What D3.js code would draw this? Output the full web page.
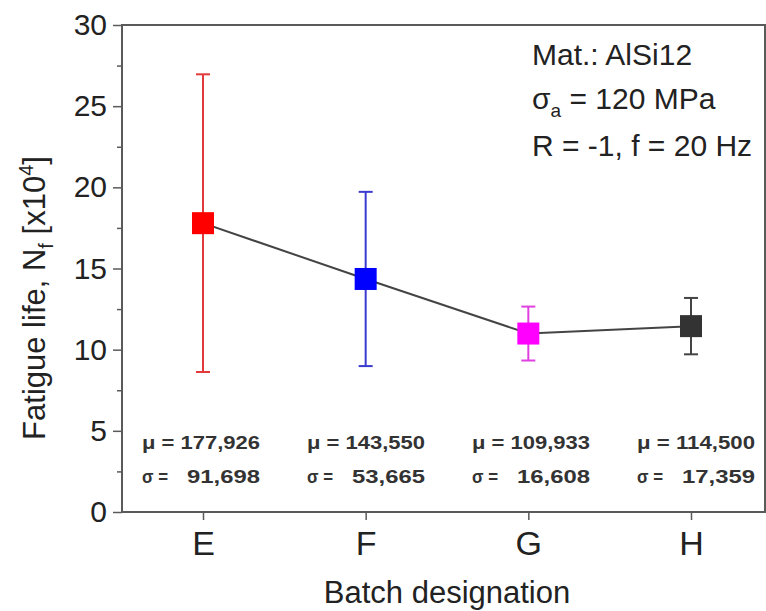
<!DOCTYPE html>
<html><head><meta charset="utf-8">
<script src="https://cdn.jsdelivr.net/npm/d3@7"></script>
<style>body{margin:0;background:#fff;}svg{display:block;}</style>
</head><body>
<svg id="c" width="766" height="611"></svg>
<script>
const categories = ["E","F","G","H"];
const means = [17.7926, 14.3550, 10.9933, 11.4500];
const sigmas = [9.1698, 5.3665, 1.6608, 1.7359];
const muLabels = ["177,926","143,550","109,933","114,500"];
const sigmaLabels = ["91,698","53,665","16,608","17,359"];
const colors = ["#ff0000","#0000ff","#ff00ff","#333333"];
const barColors = ["#e03a3a","#3a3ad0","#e040e0","#444444"];
const yTicks = [0,5,10,15,20,25,30];
const yMinor = [2.5,7.5,12.5,17.5,22.5,27.5];

const svg = d3.select("#c");
const font = "Liberation Sans, Arial, sans-serif";
const L = 122, R = 765, T = 25, B = 512;
const x = d3.scaleLinear().domain([1,4]).range([203,691]);
const y = d3.scaleLinear().domain([0,30]).range([B,T]);
const sx = d3.scaleLinear().domain([1,4]).range([142,637]);

// frame
svg.append("rect").attr("x",L).attr("y",T).attr("width",R-L).attr("height",B-T)
  .attr("fill","none").attr("stroke","#5a5a5a").attr("stroke-width",2);

// y axis
const yAxis = d3.axisLeft(y).tickValues(yTicks).tickSize(9).tickPadding(6);
const gy = svg.append("g").attr("transform",`translate(${L},0)`).call(yAxis);
gy.select(".domain").remove();
gy.selectAll("line").attr("stroke","#5a5a5a").attr("stroke-width",1.5);
gy.selectAll("text").attr("font-family",font).attr("font-size",30).attr("fill","#222");
const gym = svg.append("g").attr("transform",`translate(${L},0)`)
  .call(d3.axisLeft(y).tickValues(yMinor).tickSize(5).tickFormat(""));
gym.select(".domain").remove();
gym.selectAll("line").attr("stroke","#5a5a5a").attr("stroke-width",1.5);

// x axis
const xAxis = d3.axisBottom(x).tickValues([1,2,3,4]).tickSize(8).tickPadding(10)
  .tickFormat((d,i)=>categories[i]);
const gx = svg.append("g").attr("transform",`translate(0,${B})`).call(xAxis);
gx.select(".domain").remove();
gx.selectAll("line").attr("stroke","#5a5a5a").attr("stroke-width",1.5);
gx.selectAll("text").attr("font-family",font).attr("font-size",34).attr("fill","#222")
  .attr("dy",null).attr("y",43);

// axis titles
svg.append("text").attr("x",447).attr("y",603).attr("text-anchor","middle")
  .attr("font-family",font).attr("font-size",31).attr("fill","#222").text("Batch designation");
const yt = svg.append("text").attr("transform","translate(45,298) rotate(-90)")
  .attr("text-anchor","middle").attr("font-family",font).attr("font-size",31).attr("fill","#222");
yt.append("tspan").text("Fatigue life, N");
yt.append("tspan").attr("font-size",20).attr("dy",8).text("f");
yt.append("tspan").attr("dy",-8).text(" [x10");
yt.append("tspan").attr("font-size",20).attr("dy",-12).text("4");
yt.append("tspan").attr("dy",12).text("]");

const data = categories.map((c,i)=>({c,i,m:means[i],s:sigmas[i]}));

// connecting line
svg.append("path").datum(data)
  .attr("d", d3.line().x(d=>x(d.i+1)).y(d=>y(d.m)))
  .attr("fill","none").attr("stroke","#444").attr("stroke-width",2);

// error bars
const eb = svg.selectAll(".eb").data(data).enter().append("g");
eb.append("line").attr("x1",d=>x(d.i+1)).attr("x2",d=>x(d.i+1))
  .attr("y1",d=>y(d.m-d.s)).attr("y2",d=>y(d.m+d.s))
  .attr("stroke",d=>barColors[d.i]).attr("stroke-width",2);
[1,-1].forEach(sg=>{
  eb.append("line").attr("x1",d=>x(d.i+1)-7).attr("x2",d=>x(d.i+1)+7)
    .attr("y1",d=>y(d.m+sg*d.s)).attr("y2",d=>y(d.m+sg*d.s))
    .attr("stroke",d=>barColors[d.i]).attr("stroke-width",2);
});
// markers
const ms = 22;
eb.append("rect").attr("x",d=>x(d.i+1)-ms/2).attr("y",d=>y(d.m)-ms/2)
  .attr("width",ms).attr("height",ms).attr("fill",d=>colors[d.i]);

// stats text
const st = svg.selectAll(".st").data(data).enter().append("g")
  .attr("font-family",font).attr("font-size",19).attr("font-weight","bold").attr("fill","#333");
st.append("text").attr("x",d=>sx(d.i+1)).attr("y",449)
  .attr("textLength",118).attr("lengthAdjust","spacingAndGlyphs")
  .text(d=>"μ = " + muLabels[d.i]);
st.append("text").attr("x",d=>sx(d.i+1)).attr("y",483)
  .attr("textLength",26).attr("lengthAdjust","spacingAndGlyphs").text("σ =");
st.append("text").attr("x",d=>sx(d.i+1)+118).attr("y",483).attr("text-anchor","end")
  .attr("textLength",73).attr("lengthAdjust","spacingAndGlyphs").text(d=>sigmaLabels[d.i]);

// annotation
const an = svg.append("g").attr("font-family",font).attr("font-size",30).attr("fill","#222");
an.append("text").attr("x",532).attr("y",65).text("Mat.: AlSi12");
const a2 = an.append("text").attr("x",532).attr("y",109);
a2.append("tspan").text("σ");
a2.append("tspan").attr("font-size",19).attr("dy",8).text("a");
a2.append("tspan").attr("dy",-8).text(" = 120 MPa");
an.append("text").attr("x",532).attr("y",156).text("R = -1, f = 20 Hz");
</script>
</body></html>
